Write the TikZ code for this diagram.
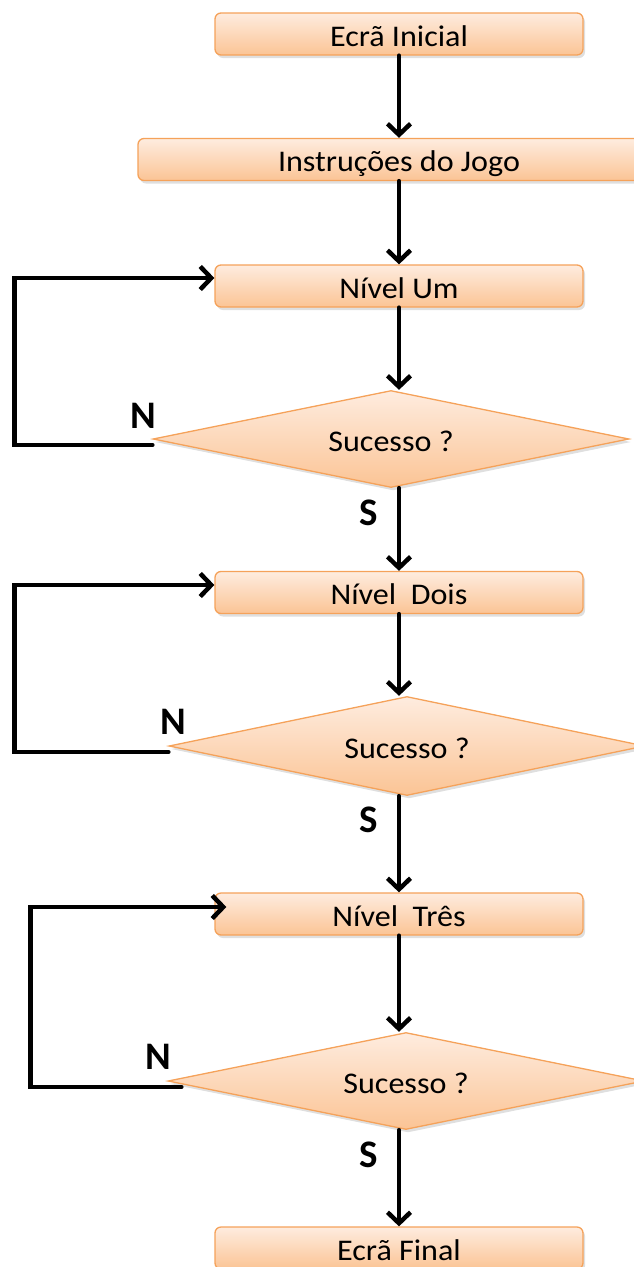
\documentclass[tikz,border=0pt]{standalone}
\usepackage{fontspec}
\setmainfont{Carlito}
\newfontfamily\boxfont{Carlito}[FakeStretch=1.07]
\usetikzlibrary{arrows.meta,shapes.geometric,shadows}

\definecolor{boxtop}{HTML}{FEECDF}
\definecolor{boxbot}{HTML}{FBC495}
\definecolor{boxline}{HTML}{F5A25A}

\tikzset{
  box/.style={rectangle, rounded corners=6pt, draw=boxline, line width=1.3pt,
    top color=boxtop, bottom color=boxbot,
    minimum width=368pt, minimum height=42pt, inner sep=0pt,
    text height=24pt, text depth=0pt,
    font=\boxfont\fontsize{30}{36}\selectfont,
    drop shadow={opacity=0.25, shadow xshift=2pt, shadow yshift=-3pt}},
  decision/.style={diamond, aspect=4.9, draw=boxline, line width=1.3pt,
    top color=boxtop, bottom color=boxbot,
    minimum width=476pt, minimum height=97pt, inner sep=0pt,
    text height=24pt, text depth=0pt,
    font=\boxfont\fontsize{30}{36}\selectfont,
    drop shadow={opacity=0.25, shadow xshift=2pt, shadow yshift=-3pt}},
  flowarrow/.style={line width=4.5pt, line cap=round, line join=miter,
    -{Straight Barb[length=11pt,width=23pt]}},
  lab/.style={font=\fontsize{39}{44}\bfseries\selectfont, inner sep=0pt}
}

\begin{document}
\begin{tikzpicture}[x=1pt,y=-1pt]
  \useasboundingbox (0,0) rectangle (634,1267);
  \clip (0,0) rectangle (634,1267);

  % process boxes and decisions
  \node[box] (ini) at (399,34) {Ecrã Inicial};
  \node[box, minimum width=522pt] (ins) at (399,159.5) {Instruções do Jogo};
  \node[box] (n1) at (399,286) {Nível Um};
  \node[decision] (d1) at (391,439) {Sucesso ?};
  \node[box] (n2) at (399,592.5) {Nível\ \ Dois};
  \node[decision, minimum height=99pt] (d2) at (407,746) {Sucesso ?};
  \node[box] (n3) at (399,914) {Nível\ \ Três};
  \node[decision] (d3) at (406,1081) {Sucesso ?};
  \node[box] (fin) at (399,1248) {Ecrã Final};

  % main flow
  \draw[flowarrow] (ini.south) -- (ins.north);
  \draw[flowarrow] (ins.south) -- (n1.north);
  \draw[flowarrow] (n1.south) -- (n1.south |- d1.north);
  \draw[flowarrow] (n2.north |- d1.south) -- (n2.north);
  \draw[flowarrow] (n2.south) -- (n2.south |- d2.north);
  \draw[flowarrow] (n3.north |- d2.south) -- (n3.north);
  \draw[flowarrow] (n3.south) -- (n3.south |- d3.north);
  \draw[flowarrow] (fin.north |- d3.south) -- (fin.north);

  % retry loops
  \draw[flowarrow] ([yshift=-6pt]d1.west) -- ++(-138,0) |- ([yshift=8pt]n1.west);
  \draw[flowarrow] ([yshift=-6pt]d2.west) -- ++(-154,0) |- ([yshift=7.5pt]n2.west);
  \draw[flowarrow] ([xshift=14pt,yshift=-6pt]d3.west) -- ++(-151,0) |- ([xshift=12pt,yshift=7pt]n3.west);

  % branch labels
  \node[lab] (no1) at (143,416) {N};
  \node[lab] (yes1) at (369,513) {S};
  \node[lab] (no2) at (173,722) {N};
  \node[lab] (yes2) at (369,820) {S};
  \node[lab] (no3) at (158,1057) {N};
  \node[lab] (yes3) at (369,1155) {S};
\end{tikzpicture}
\end{document}
